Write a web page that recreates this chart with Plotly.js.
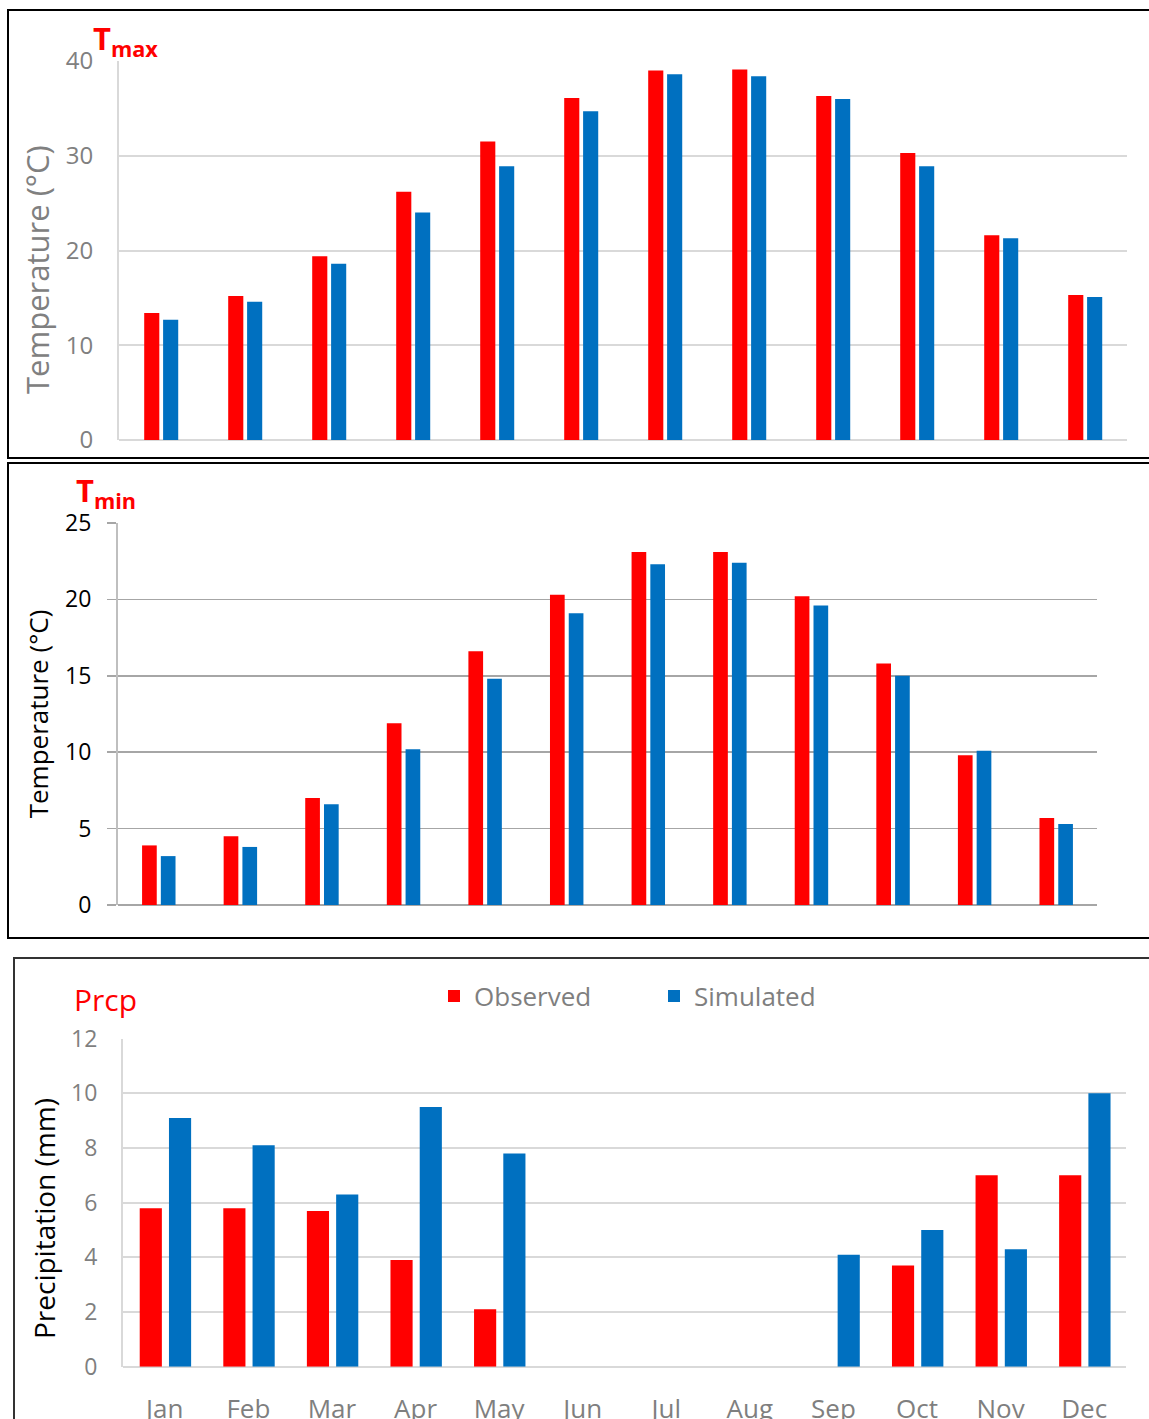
<!DOCTYPE html>
<html>
<head>
<meta charset="utf-8">
<script src="https://cdn.plot.ly/plotly-3.0.1.min.js"></script>
<style>
html,body{margin:0;padding:0;background:#fff;}
#chart{width:1149px;height:1419px;}
</style>
</head>
<body>
<div id="chart"></div>
<script>
const months = ["Jan","Feb","Mar","Apr","May","Jun","Jul","Aug","Sep","Oct","Nov","Dec"];
const tmaxObserved = [13.4, 15.2, 19.4, 26.2, 31.5, 36.1, 39.0, 39.1, 36.3, 30.3, 21.6, 15.3];
const tmaxSimulated = [12.7, 14.6, 18.6, 24.0, 28.9, 34.7, 38.6, 38.4, 36.0, 28.9, 21.3, 15.1];
const tminObserved = [3.9, 4.5, 7.0, 11.9, 16.6, 20.3, 23.1, 23.1, 20.2, 15.8, 9.8, 5.7];
const tminSimulated = [3.2, 3.8, 6.6, 10.2, 14.8, 19.1, 22.3, 22.4, 19.6, 15.0, 10.1, 5.3];
const prcpObserved = [5.8, 5.8, 5.7, 3.9, 2.1, 0, 0, 0, 0, 3.7, 7.0, 7.0];
const prcpSimulated = [9.1, 8.1, 6.3, 9.5, 7.8, 0, 0, 0, 4.1, 5.0, 4.3, 10.0];
const seriesNames = ["Observed", "Simulated"];

const RED = "#FF0000", BLUE = "#0070C0";
const W = 1149, H = 1419;
const px = v => v / W;
const py = v => 1 - v / H;
const FONT = "Open Sans, sans-serif";

function bar(x, y, name, color, xa, ya, width, offset, showlegend) {
  return {type: "bar", x: x, y: y, name: name, xaxis: xa, yaxis: ya,
    marker: {color: color}, width: width, offset: offset,
    showlegend: showlegend, legendgroup: name, hoverinfo: "x+y+name"};
}

const data = [
  bar(months, tmaxObserved, seriesNames[0], RED, "x", "y", 0.18, -0.2, false),
  bar(months, tmaxSimulated, seriesNames[1], BLUE, "x", "y", 0.18, 0.025, false),
  bar(months, tminObserved, seriesNames[0], RED, "x2", "y2", 0.18, -0.205, false),
  bar(months, tminSimulated, seriesNames[1], BLUE, "x2", "y2", 0.18, 0.025, false),
  bar(months, prcpObserved, seriesNames[0], RED, "x3", "y3", 0.265, -0.3, true),
  bar(months, prcpSimulated, seriesNames[1], BLUE, "x3", "y3", 0.265, 0.05, true)
];

const layout = {
  width: W, height: H,
  margin: {l: 0, r: 0, t: 0, b: 0},
  paper_bgcolor: "#fff", plot_bgcolor: "#fff",
  font: {family: FONT},
  barmode: "overlay",
  showlegend: true,
  legend: {orientation: "h", x: px(434), y: py(996), xanchor: "left", yanchor: "middle",
    font: {size: 26, color: "#7f7f7f", family: FONT}, entrywidth: 175, entrywidthmode: "pixels",
    traceorder: "normal", bgcolor: "rgba(0,0,0,0)"},
  xaxis: {domain: [px(119), px(1127)], anchor: "y", type: "category", range: [-0.5, 11.5],
    showticklabels: false, showgrid: false, zeroline: false, showline: false, ticks: ""},
  yaxis: {domain: [py(440), py(61)], anchor: "x", range: [0, 40], dtick: 10,
    showgrid: true, gridcolor: "#d9d9d9", gridwidth: 2, zeroline: true, zerolinecolor: "#d9d9d9", zerolinewidth: 2,
    showline: true, linecolor: "#d9d9d9", linewidth: 2, ticks: "", ticklabelstandoff: 19,
    tickfont: {size: 24, color: "#808080", family: FONT}},
  xaxis2: {domain: [px(118), px(1097)], anchor: "y2", type: "category", range: [-0.5, 11.5],
    showticklabels: false, showgrid: false, zeroline: false, showline: false, ticks: ""},
  yaxis2: {domain: [py(905), py(523)], anchor: "x2", range: [0, 25], dtick: 5,
    showgrid: true, gridcolor: "#a6a6a6", gridwidth: 1.5, zeroline: true, zerolinecolor: "#a6a6a6", zerolinewidth: 2,
    showline: true, linecolor: "#bfbfbf", linewidth: 2, ticks: "outside", ticklen: 9, tickcolor: "#a6a6a6", tickwidth: 1.5,
    ticklabelstandoff: 11,
    tickfont: {size: 23, color: "#000000", family: FONT},
    title: {text: "Temperature (°C)", font: {size: 26, color: "#000000", family: FONT}, standoff: 9}},
  xaxis3: {domain: [px(123), px(1126)], anchor: "y3", type: "category", range: [-0.5, 11.5],
    showgrid: false, zeroline: false, showline: false, ticks: "", ticklabelstandoff: 24,
    tickfont: {size: 26, color: "#7f7f7f", family: FONT}},
  yaxis3: {domain: [py(1366.7), py(1038.7)], anchor: "x3", range: [0, 12], dtick: 2,
    showgrid: true, gridcolor: "#d9d9d9", gridwidth: 2, zeroline: true, zerolinecolor: "#d9d9d9", zerolinewidth: 2,
    showline: true, linecolor: "#d9d9d9", linewidth: 2, ticks: "", ticklabelstandoff: 19,
    tickfont: {size: 23, color: "#7f7f7f", family: FONT}},
  shapes: [
    {type: "rect", xref: "paper", yref: "paper", x0: px(8), x1: 1.01, y0: py(458), y1: py(10),
      line: {color: "#000", width: 2}, fillcolor: "rgba(0,0,0,0)"},
    {type: "rect", xref: "paper", yref: "paper", x0: px(8), x1: 1.01, y0: py(938), y1: py(463),
      line: {color: "#000", width: 2}, fillcolor: "rgba(0,0,0,0)"},
    {type: "rect", xref: "paper", yref: "paper", x0: px(14), x1: 1.01, y0: -0.01, y1: py(958),
      line: {color: "#333", width: 2}, fillcolor: "rgba(0,0,0,0)"}
  ],
  annotations: [
    {xref: "paper", yref: "paper", x: px(91), y: py(40), xanchor: "left", yanchor: "middle", showarrow: false,
      text: "<b>T<sub>max</sub></b>", font: {size: 31, color: RED, family: FONT}},
    {xref: "paper", yref: "paper", x: px(74), y: py(492), xanchor: "left", yanchor: "middle", showarrow: false,
      text: "<b>T<sub>min</sub></b>", font: {size: 31, color: RED, family: FONT}},
    {xref: "paper", yref: "paper", x: px(72), y: py(999), xanchor: "left", yanchor: "middle", showarrow: false,
      text: "Prcp", font: {size: 30, color: RED, family: FONT}},
    {xref: "paper", yref: "paper", x: px(37), y: py(270), xanchor: "center", yanchor: "middle", showarrow: false,
      textangle: -90, text: "Temperature (°C)", font: {size: 31, color: "#808080", family: FONT}},
    {xref: "paper", yref: "paper", x: px(44), y: py(1219), xanchor: "center", yanchor: "middle", showarrow: false,
      textangle: -90, text: "Precipitation (mm)", font: {size: 28, color: "#000000", family: FONT}}
  ]
};

Plotly.newPlot("chart", data, layout, {displayModeBar: false, staticPlot: true});
</script>
</body>
</html>
